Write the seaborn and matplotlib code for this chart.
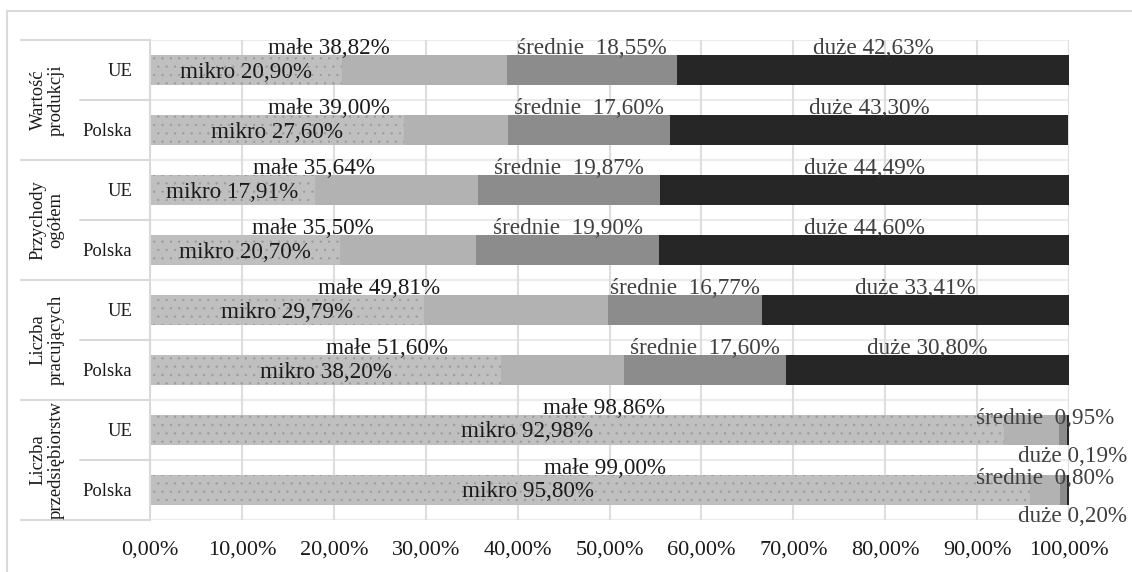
import matplotlib
matplotlib.use("Agg")
import matplotlib.pyplot as plt
import matplotlib.transforms as mtransforms
from matplotlib.patches import Rectangle
import numpy as np
import pandas as pd
import seaborn as sns

# Size-class shares (%) for each indicator, EU vs Poland
groups = ["Wartość\nprodukcji", "Przychody\nogółem", "Liczba\npracujących", "Liczba\nprzedsiębiorstw"]
regions = ["UE", "Polska"]

mikro = [20.90, 27.60, 17.91, 20.70, 29.79, 38.20, 92.98, 95.80]
male_cum = [38.82, 39.00, 35.64, 35.50, 49.81, 51.60, 98.86, 99.00]   # mikro + małe
srednie = [18.55, 17.60, 19.87, 19.90, 16.77, 17.60, 0.95, 0.80]
duze = [42.63, 43.30, 44.49, 44.60, 33.41, 30.80, 0.19, 0.20]

xticks = np.arange(0, 101, 10)

sns.set_theme(style="white")
plt.rcParams["font.family"] = ["Liberation Serif", "DejaVu Serif"]
plt.rcParams["hatch.linewidth"] = 0.4

rows = [f"{g}|{r}" for g in groups for r in regions]
end_mikro = np.array(mikro)
end_male = np.array(male_cum)
end_sred = end_male + np.array(srednie)
end_duze = end_sred + np.array(duze)

df = pd.DataFrame({
    "row": rows,
    "mikro": end_mikro,
    "male": end_male,
    "srednie": end_sred,
    "duze": end_duze,
})

W, H = 1132, 572
fig = plt.figure(figsize=(W / 100, H / 100), dpi=100)
ax = fig.add_axes([150 / W, 1 - 520 / H, 919 / W, 480 / H])

# stacked bars drawn as overlapping cumulative bars, back to front
layers = [("duze", "#262626"), ("srednie", "#8C8C8C"), ("male", "#B2B2B2"), ("mikro", "#BFBFBF")]
for col, colr in layers:
    n0 = len(ax.patches)
    sns.barplot(data=df, x=col, y="row", order=rows, orient="h", color=colr,
                saturation=1, width=0.5, errorbar=None, ax=ax)
    for p in ax.patches[n0:]:
        p.set_linewidth(0)
        if col == "mikro":
            p.set_edgecolor("#9A9A9A")
            p.set_hatch("..")
            p.set_linewidth(0)

ax.set_xlim(0, 100)
ax.set_ylim(7.5, -0.5)
ax.set_xlabel("")
ax.set_ylabel("")
ax.set_xticks(xticks)
ax.set_xticklabels([f"{v:.2f}%".replace(".", ",") for v in xticks], fontsize=16, color="#1a1a1a")
ax.set_yticks(range(len(rows)))
ax.set_yticklabels(regions * len(groups), fontsize=13.3, color="#1a1a1a")
ax.tick_params(axis="x", length=0, pad=15)
ax.tick_params(axis="y", length=0, pad=13)
for s in ["top", "right", "bottom"]:
    ax.spines[s].set_visible(False)
ax.spines["left"].set_color("#D9D9D9")
ax.spines["left"].set_linewidth(1.5)
ax.grid(axis="x", color="#DEDEDE", lw=1.5)
ax.grid(axis="y", visible=False)
ax.set_axisbelow(True)

# row separators in the plot and in the two-level label area
trans = mtransforms.blended_transform_factory(ax.transAxes, ax.transData)
for k, b in enumerate(np.arange(-0.5, len(rows), 1.0)):
    ax.axhline(b, color="#EBEBEB", lw=1.5, zorder=0.5)
    x0 = -0.1404 if k % 2 == 0 else -0.0762
    ax.plot([x0, 0], [b, b], transform=trans, color="#D9D9D9", lw=1.5, clip_on=False)

for gi, g in enumerate(groups):
    ax.text(-0.1120, 2 * gi + 0.5, g, transform=trans, rotation=90, ha="center", va="center",
            fontsize=13.4, linespacing=1.05, multialignment="center", color="#1a1a1a")


def pct(v):
    return f"{v:.2f}%".replace(".", ",")


fs = 16.7
dark = "#1a1a1a"
grey = "#404040"
for i in range(len(rows)):
    top = i - 0.25
    m, mc, s, d = mikro[i], male_cum[i], srednie[i], duze[i]
    if m > 90:
        ax.text(mc / 2 - 1.2, i + 0.12, f"mikro {pct(m)}", ha="right", va="baseline",
                fontsize=fs, color=dark)
    else:
        ax.text(m / 2, i + 0.13, f"mikro {pct(m)}", ha="center", va="baseline",
                fontsize=fs, color=dark)
    ax.text(mc / 2, top - 0.02, f"małe {pct(mc)}", ha="center", va="baseline",
            fontsize=fs, color=dark)
    if s >= 3:
        ax.text(mc + s / 2, top - 0.02, f"średnie  {pct(s)}", ha="center", va="baseline",
                fontsize=fs, color=grey)
        ax.text(mc + s + d / 2, top - 0.02, f"duże {pct(d)}", ha="center", va="baseline",
                fontsize=fs, color=grey)
    else:
        ax.text(104.9, top + 0.158, f"średnie  {pct(s)}", ha="right", va="baseline",
                fontsize=fs, color=grey)
        ax.text(106.3, top + 0.79, f"duże {pct(d)}", ha="right", va="baseline",
                fontsize=fs, color=grey)

fig.add_artist(Rectangle((7 / W, -0.05), 1.1, (1 - 11 / H) + 0.05, transform=fig.transFigure,
                         fill=False, edgecolor="#D9D9D9", lw=1.5))

fig.savefig("out.png", dpi=100)
